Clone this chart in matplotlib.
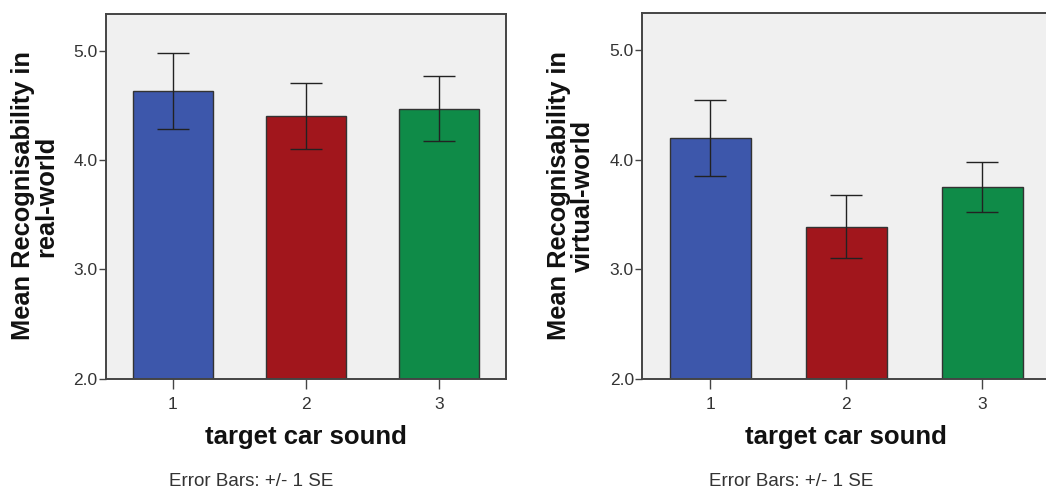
import matplotlib
matplotlib.use("Agg")
import matplotlib.pyplot as plt

categories = ["1", "2", "3"]
real_means = [4.63, 4.40, 4.47]
real_se = [0.345, 0.30, 0.295]
virtual_means = [4.20, 3.39, 3.75]
virtual_se = [0.345, 0.285, 0.225]
yticks = [2.0, 3.0, 4.0, 5.0]
colors = ["#3D57AB", "#A1161C", "#0F8B48"]

plt.rcParams['font.family'] = ['Liberation Sans', 'DejaVu Sans']

W, H = 1046, 495
fig = plt.figure(figsize=(W / 100, H / 100), dpi=100)

def px_axes(x0, y0, x1, y1):
    return fig.add_axes([x0 / W, 1 - y1 / H, (x1 - x0) / W, (y1 - y0) / H])

def draw(ax, means, se, ylabel, xlab_x, lab_x, note_x):
    x = [1, 2, 3]
    ax.set_facecolor("#F0F0F0")
    ax.bar(x, means, width=0.6, bottom=0, color=colors, edgecolor="#333333",
           linewidth=1.0, zorder=2)
    ax.errorbar(x, means, yerr=se, fmt="none", ecolor="#222222", elinewidth=1.0,
                capsize=11.5, capthick=1.0, zorder=3)
    ax.set_xlim(0.5, 3.5)
    ax.set_ylim(2.0, 5.335)
    ax.set_yticks(yticks)
    ax.set_yticklabels([f"{v:.1f}" for v in yticks])
    ax.set_xticks(x)
    ax.set_xticklabels(categories)
    for s in ax.spines.values():
        s.set_color("#444444")
        s.set_linewidth(1.4)
    ax.tick_params(axis="y", direction="out", length=5, width=1.0, color="#444444",
                   labelsize=12.5, labelcolor="#333333", pad=1)
    ax.tick_params(axis="x", direction="out", length=7, width=1.0, color="#444444",
                   labelsize=12.5, labelcolor="#333333", pad=6)
    fig.text(xlab_x / W, 1 - 437 / H, "target car sound", ha="center", va="center",
             fontsize=18.5, fontweight="bold", color="#111111")
    fig.text(lab_x / W, 1 - 196 / H, ylabel, ha="center", va="center", rotation=90,
             fontsize=18.3, fontweight="bold", color="#111111", linespacing=0.95,
             multialignment="center")
    fig.text(note_x / W, 1 - 482 / H, "Error Bars: +/- 1 SE", ha="center", va="center",
             fontsize=13.5, color="#333333")

ax1 = px_axes(106, 14, 506, 378.7)
draw(ax1, real_means, real_se, "Mean Recognisability in\nreal-world", 306, 35, 251)

ax2 = px_axes(642.3, 13.3, 1050.5, 379)
draw(ax2, virtual_means, virtual_se, "Mean Recognisability in\nvirtual-world", 846, 571, 791)

fig.savefig("out.png", dpi=100, facecolor="white")
